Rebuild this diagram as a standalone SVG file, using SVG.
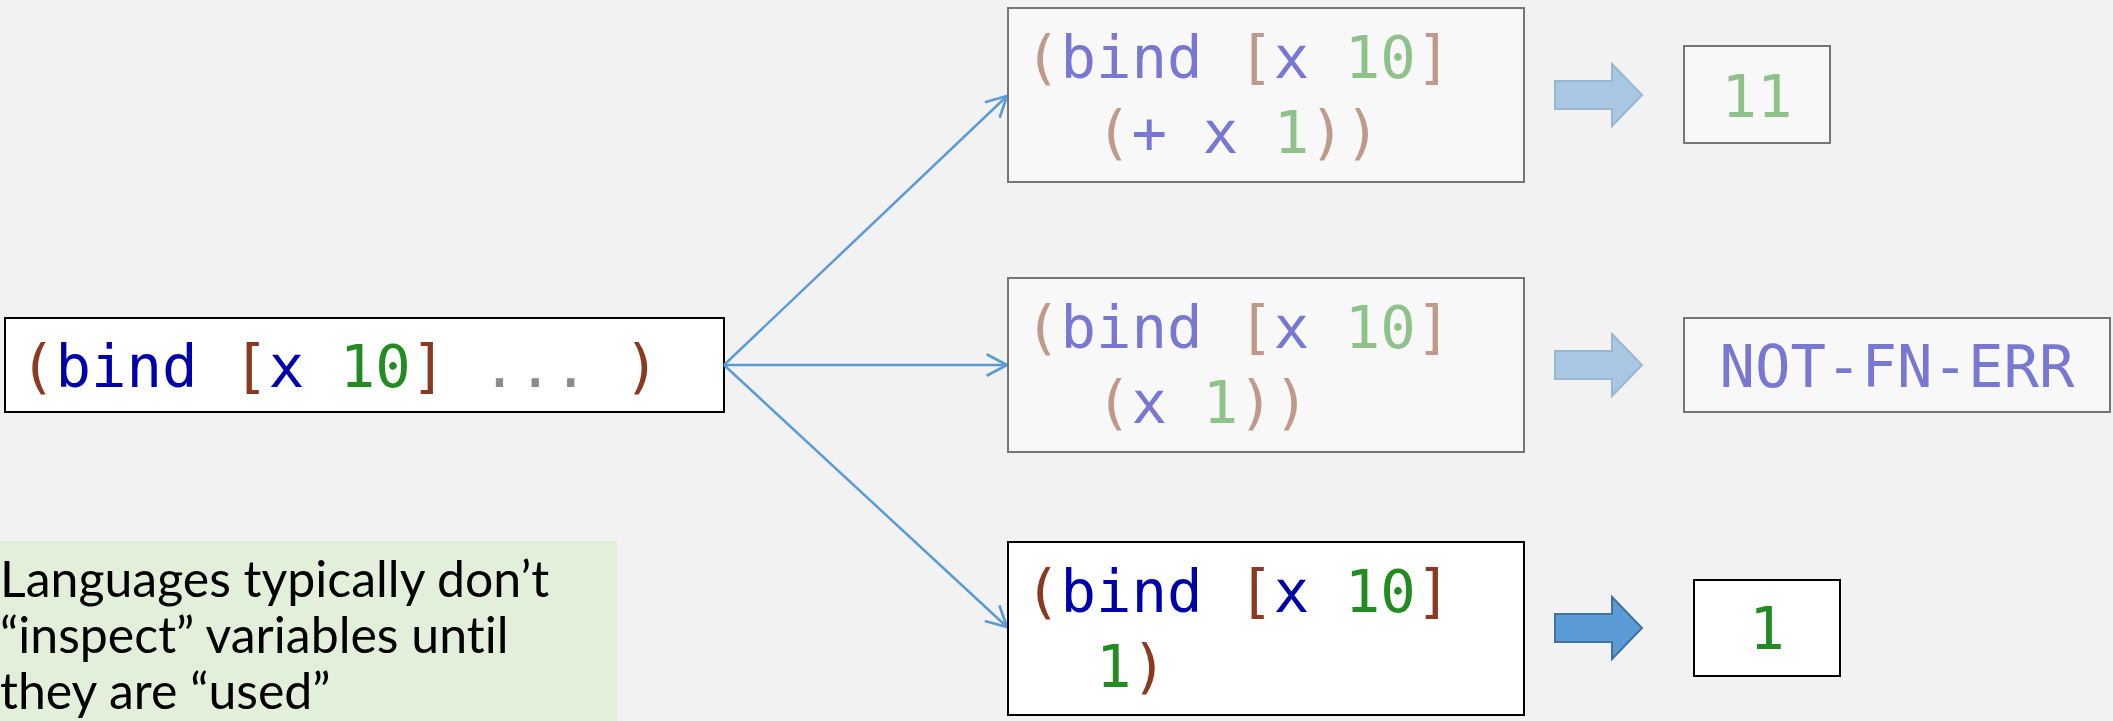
<svg xmlns="http://www.w3.org/2000/svg" width="2113" height="721" viewBox="0 0 2113 721">
  <style>
    .code{font-family:"DejaVu Sans Mono","Liberation Mono",monospace;font-size:59px;white-space:pre}
    .p{fill:#8b3a22}
    .s{fill:#0000aa}
    .n{fill:#228b22}
    .g{fill:#8c8c8c}
    .faded .p{fill:#bf9a8c}
    .faded .s{fill:#7878d2}
    .faded .n{fill:#8fc28a}
    .box{fill:#ffffff;stroke:#000000;stroke-width:2}
    .faded .box{fill:#f8f8f8;stroke:#767676}
    .conn{stroke:#5b9bd5;stroke-width:2.5;fill:none;marker-end:url(#open)}
    .bigarrow{fill:#5b9bd5;stroke:#41719c;stroke-width:2}
    .faded .bigarrow{fill:#a9c6e3;stroke:#9bb7d0}
    .note{font-family:Lato,"Open Sans",sans-serif;font-size:50px;fill:#000;font-variant-ligatures:none}
  </style>
  <defs>
    <marker id="open" markerUnits="userSpaceOnUse" markerWidth="30" markerHeight="30" refX="0" refY="0" viewBox="-22 -14 26 28" orient="auto">
      <path d="M-19,-10 L0,0 L-19,10" fill="none" stroke="#5b9bd5" stroke-width="2.5"/>
    </marker>
    <path id="blk" d="M1555,-14 H1612 V-31 L1642,0 L1612,31 V14 H1555 Z"/>
  </defs>

  <rect width="2113" height="721" fill="#f2f2f2"/>

  <!-- source expression -->
  <g id="source">
    <rect class="box" x="5" y="318" width="719" height="94"/>
    <text class="code" x="20" y="387"><tspan class="p">(</tspan><tspan class="s">bind</tspan> <tspan class="p">[</tspan><tspan class="s">x</tspan> <tspan class="n">10</tspan><tspan class="p">]</tspan> <tspan class="g">...</tspan> <tspan class="p">)</tspan></text>
  </g>

  <!-- branches -->
  <g id="connectors">
    <line class="conn" x1="724" y1="365" x2="1007" y2="96"/>
    <line class="conn" x1="724" y1="365" x2="1007" y2="365"/>
    <line class="conn" x1="724" y1="365" x2="1007" y2="627"/>
  </g>

  <!-- body (+ x 1) -->
  <g id="case-add" class="faded">
    <rect class="box" x="1008" y="8" width="516" height="174"/>
    <text class="code" x="1025" y="78"><tspan class="p">(</tspan><tspan class="s">bind</tspan> <tspan class="p">[</tspan><tspan class="s">x</tspan> <tspan class="n">10</tspan><tspan class="p">]</tspan></text>
    <text class="code" x="1025" y="153">  <tspan class="p">(</tspan><tspan class="s">+</tspan> <tspan class="s">x</tspan> <tspan class="n">1</tspan><tspan class="p">))</tspan></text>
  </g>
  <g id="arrow-add" class="faded">
    <use href="#blk" class="bigarrow" transform="translate(0,95)"/>
  </g>
  <g id="result-add" class="faded">
    <rect class="box" x="1684" y="46" width="146" height="97"/>
    <text class="code n" x="1757" y="117" text-anchor="middle">11</text>
  </g>

  <!-- body (x 1) -->
  <g id="case-call" class="faded">
    <rect class="box" x="1008" y="278" width="516" height="174"/>
    <text class="code" x="1025" y="348"><tspan class="p">(</tspan><tspan class="s">bind</tspan> <tspan class="p">[</tspan><tspan class="s">x</tspan> <tspan class="n">10</tspan><tspan class="p">]</tspan></text>
    <text class="code" x="1025" y="423">  <tspan class="p">(</tspan><tspan class="s">x</tspan> <tspan class="n">1</tspan><tspan class="p">))</tspan></text>
  </g>
  <g id="arrow-call" class="faded">
    <use href="#blk" class="bigarrow" transform="translate(0,365)"/>
  </g>
  <g id="result-call" class="faded">
    <rect class="box" x="1684" y="318" width="426" height="94"/>
    <text class="code s" x="1897" y="387" text-anchor="middle">NOT-FN-ERR</text>
  </g>

  <!-- body 1 -->
  <g id="case-const">
    <rect class="box" x="1008" y="542" width="516" height="173"/>
    <text class="code" x="1025" y="612"><tspan class="p">(</tspan><tspan class="s">bind</tspan> <tspan class="p">[</tspan><tspan class="s">x</tspan> <tspan class="n">10</tspan><tspan class="p">]</tspan></text>
    <text class="code" x="1025" y="687">  <tspan class="n">1</tspan><tspan class="p">)</tspan></text>
  </g>
  <g id="arrow-const">
    <use href="#blk" class="bigarrow" transform="translate(0,628)"/>
  </g>
  <g id="result-const">
    <rect class="box" x="1694" y="580" width="146" height="96"/>
    <text class="code n" x="1767" y="649" text-anchor="middle">1</text>
  </g>

  <!-- side note -->
  <g id="note">
    <rect x="0" y="541" width="617" height="180" fill="#e2efda"/>
    <text class="note" x="0" y="597">Languages typically don’t</text>
    <text class="note" x="0" y="653">“inspect” variables until</text>
    <text class="note" x="0" y="709">they are “used”</text>
  </g>
</svg>
